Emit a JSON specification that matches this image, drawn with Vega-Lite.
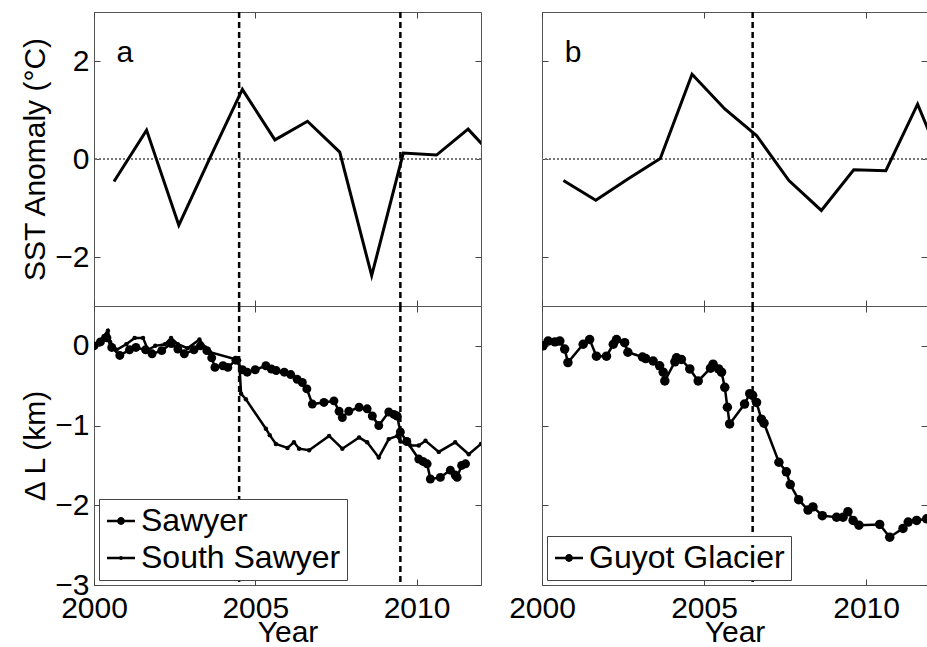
{
  "$schema": "https://vega.github.io/schema/vega-lite/v6.json",
  "padding": {"left": 20, "top": 10, "right": 0, "bottom": 0},
  "background": "white",
  "datasets": {
    "sstA": [
      {"year": 2000.62, "sst": -0.46}, {"year": 2001.63, "sst": 0.59}, {"year": 2002.63, "sst": -1.35},
      {"year": 2003.6, "sst": 0.03}, {"year": 2004.6, "sst": 1.42}, {"year": 2005.61, "sst": 0.39},
      {"year": 2006.62, "sst": 0.77}, {"year": 2007.62, "sst": 0.14}, {"year": 2008.61, "sst": -2.38},
      {"year": 2009.59, "sst": 0.12}, {"year": 2010.62, "sst": 0.08}, {"year": 2011.6, "sst": 0.61},
      {"year": 2012.6, "sst": -0.1}
    ],
    "sstB": [
      {"year": 2000.66, "sst": -0.44}, {"year": 2001.66, "sst": -0.84}, {"year": 2002.65, "sst": -0.41},
      {"year": 2003.65, "sst": 0.01}, {"year": 2004.63, "sst": 1.73}, {"year": 2005.64, "sst": 1.02},
      {"year": 2006.62, "sst": 0.48}, {"year": 2007.62, "sst": -0.44}, {"year": 2008.62, "sst": -1.05},
      {"year": 2009.62, "sst": -0.22}, {"year": 2010.61, "sst": -0.24}, {"year": 2011.59, "sst": 1.12},
      {"year": 2012.6, "sst": -0.5}
    ],
    "eventsA": [{"t": 2004.5}, {"t": 2009.5}],
    "eventsB": [{"t": 2006.5}],
    "labelA": [{"panel": "a"}],
    "labelB": [{"panel": "b"}],
    "glA": [
      {"glacier": "Sawyer", "year": 2000.0, "dL": 0.0},
      {"glacier": "Sawyer", "year": 2000.2, "dL": 0.05},
      {"glacier": "Sawyer", "year": 2000.4, "dL": 0.1},
      {"glacier": "Sawyer", "year": 2000.55, "dL": -0.02},
      {"glacier": "Sawyer", "year": 2000.8, "dL": -0.12},
      {"glacier": "Sawyer", "year": 2001.1, "dL": -0.05},
      {"glacier": "Sawyer", "year": 2001.3, "dL": -0.02},
      {"glacier": "Sawyer", "year": 2001.6, "dL": -0.05},
      {"glacier": "Sawyer", "year": 2001.8, "dL": -0.1},
      {"glacier": "Sawyer", "year": 2002.1, "dL": -0.06},
      {"glacier": "Sawyer", "year": 2002.4, "dL": 0.03},
      {"glacier": "Sawyer", "year": 2002.6, "dL": -0.04},
      {"glacier": "Sawyer", "year": 2002.8, "dL": -0.1},
      {"glacier": "Sawyer", "year": 2003.1, "dL": -0.05},
      {"glacier": "Sawyer", "year": 2003.3, "dL": 0.0},
      {"glacier": "Sawyer", "year": 2003.5, "dL": -0.06},
      {"glacier": "Sawyer", "year": 2003.65, "dL": -0.15},
      {"glacier": "Sawyer", "year": 2003.75, "dL": -0.27},
      {"glacier": "Sawyer", "year": 2004.0, "dL": -0.25},
      {"glacier": "Sawyer", "year": 2004.15, "dL": -0.27},
      {"glacier": "Sawyer", "year": 2004.4, "dL": -0.18},
      {"glacier": "Sawyer", "year": 2004.6, "dL": -0.3},
      {"glacier": "Sawyer", "year": 2004.75, "dL": -0.33},
      {"glacier": "Sawyer", "year": 2005.0, "dL": -0.3},
      {"glacier": "Sawyer", "year": 2005.33, "dL": -0.25},
      {"glacier": "Sawyer", "year": 2005.5, "dL": -0.29},
      {"glacier": "Sawyer", "year": 2005.65, "dL": -0.31},
      {"glacier": "Sawyer", "year": 2005.9, "dL": -0.33},
      {"glacier": "Sawyer", "year": 2006.1, "dL": -0.36},
      {"glacier": "Sawyer", "year": 2006.3, "dL": -0.42},
      {"glacier": "Sawyer", "year": 2006.46, "dL": -0.46},
      {"glacier": "Sawyer", "year": 2006.6, "dL": -0.54},
      {"glacier": "Sawyer", "year": 2006.77, "dL": -0.73},
      {"glacier": "Sawyer", "year": 2007.13, "dL": -0.71},
      {"glacier": "Sawyer", "year": 2007.44, "dL": -0.69},
      {"glacier": "Sawyer", "year": 2007.6, "dL": -0.82},
      {"glacier": "Sawyer", "year": 2007.7, "dL": -0.9},
      {"glacier": "Sawyer", "year": 2007.9, "dL": -0.82},
      {"glacier": "Sawyer", "year": 2008.22, "dL": -0.77},
      {"glacier": "Sawyer", "year": 2008.47, "dL": -0.79},
      {"glacier": "Sawyer", "year": 2008.63, "dL": -0.88},
      {"glacier": "Sawyer", "year": 2008.83, "dL": -1.0},
      {"glacier": "Sawyer", "year": 2009.14, "dL": -0.83},
      {"glacier": "Sawyer", "year": 2009.3, "dL": -0.86},
      {"glacier": "Sawyer", "year": 2009.4, "dL": -0.88},
      {"glacier": "Sawyer", "year": 2009.5, "dL": -1.08},
      {"glacier": "Sawyer", "year": 2009.7, "dL": -1.2},
      {"glacier": "Sawyer", "year": 2010.07, "dL": -1.42},
      {"glacier": "Sawyer", "year": 2010.2, "dL": -1.45},
      {"glacier": "Sawyer", "year": 2010.33, "dL": -1.48},
      {"glacier": "Sawyer", "year": 2010.43, "dL": -1.67},
      {"glacier": "Sawyer", "year": 2010.74, "dL": -1.65},
      {"glacier": "Sawyer", "year": 2011.05, "dL": -1.56},
      {"glacier": "Sawyer", "year": 2011.2, "dL": -1.62},
      {"glacier": "Sawyer", "year": 2011.26, "dL": -1.65},
      {"glacier": "Sawyer", "year": 2011.4, "dL": -1.5},
      {"glacier": "Sawyer", "year": 2011.52, "dL": -1.48},
      {"glacier": "South Sawyer", "year": 2000.0, "dL": 0.0},
      {"glacier": "South Sawyer", "year": 2000.3, "dL": 0.12},
      {"glacier": "South Sawyer", "year": 2000.43, "dL": 0.19},
      {"glacier": "South Sawyer", "year": 2000.5, "dL": 0.05},
      {"glacier": "South Sawyer", "year": 2000.7, "dL": -0.05},
      {"glacier": "South Sawyer", "year": 2001.0, "dL": 0.02},
      {"glacier": "South Sawyer", "year": 2001.26, "dL": 0.1},
      {"glacier": "South Sawyer", "year": 2001.52, "dL": 0.1},
      {"glacier": "South Sawyer", "year": 2001.67, "dL": -0.05},
      {"glacier": "South Sawyer", "year": 2001.9, "dL": 0.0},
      {"glacier": "South Sawyer", "year": 2002.2, "dL": 0.02},
      {"glacier": "South Sawyer", "year": 2002.39, "dL": 0.1},
      {"glacier": "South Sawyer", "year": 2002.6, "dL": 0.02},
      {"glacier": "South Sawyer", "year": 2002.9, "dL": -0.03},
      {"glacier": "South Sawyer", "year": 2003.27, "dL": 0.08},
      {"glacier": "South Sawyer", "year": 2003.45, "dL": -0.02},
      {"glacier": "South Sawyer", "year": 2003.6, "dL": -0.08},
      {"glacier": "South Sawyer", "year": 2004.5, "dL": -0.18},
      {"glacier": "South Sawyer", "year": 2004.56, "dL": -0.6},
      {"glacier": "South Sawyer", "year": 2004.71, "dL": -0.67},
      {"glacier": "South Sawyer", "year": 2005.33, "dL": -1.04},
      {"glacier": "South Sawyer", "year": 2005.45, "dL": -1.12},
      {"glacier": "South Sawyer", "year": 2005.64, "dL": -1.23},
      {"glacier": "South Sawyer", "year": 2006.0, "dL": -1.28},
      {"glacier": "South Sawyer", "year": 2006.2, "dL": -1.21},
      {"glacier": "South Sawyer", "year": 2006.36, "dL": -1.29},
      {"glacier": "South Sawyer", "year": 2006.67, "dL": -1.31},
      {"glacier": "South Sawyer", "year": 2007.29, "dL": -1.13},
      {"glacier": "South Sawyer", "year": 2007.7, "dL": -1.29},
      {"glacier": "South Sawyer", "year": 2008.22, "dL": -1.15},
      {"glacier": "South Sawyer", "year": 2008.47, "dL": -1.21},
      {"glacier": "South Sawyer", "year": 2008.83, "dL": -1.4},
      {"glacier": "South Sawyer", "year": 2009.14, "dL": -1.17},
      {"glacier": "South Sawyer", "year": 2009.4, "dL": -1.13},
      {"glacier": "South Sawyer", "year": 2009.5, "dL": -1.2},
      {"glacier": "South Sawyer", "year": 2009.81, "dL": -1.25},
      {"glacier": "South Sawyer", "year": 2010.07, "dL": -1.25},
      {"glacier": "South Sawyer", "year": 2010.28, "dL": -1.19},
      {"glacier": "South Sawyer", "year": 2010.69, "dL": -1.33},
      {"glacier": "South Sawyer", "year": 2011.2, "dL": -1.21},
      {"glacier": "South Sawyer", "year": 2011.62, "dL": -1.36},
      {"glacier": "South Sawyer", "year": 2012.0, "dL": -1.23}
    ],
    "glB": [
      {"glacier": "Guyot Glacier", "year": 2000.03, "dL": 0.0},
      {"glacier": "Guyot Glacier", "year": 2000.19, "dL": 0.06},
      {"glacier": "Guyot Glacier", "year": 2000.4, "dL": 0.05},
      {"glacier": "Guyot Glacier", "year": 2000.55, "dL": 0.06},
      {"glacier": "Guyot Glacier", "year": 2000.7, "dL": -0.04},
      {"glacier": "Guyot Glacier", "year": 2000.8, "dL": -0.21},
      {"glacier": "Guyot Glacier", "year": 2001.27, "dL": 0.02},
      {"glacier": "Guyot Glacier", "year": 2001.47, "dL": 0.08},
      {"glacier": "Guyot Glacier", "year": 2001.68, "dL": -0.13},
      {"glacier": "Guyot Glacier", "year": 2001.99, "dL": -0.13},
      {"glacier": "Guyot Glacier", "year": 2002.2, "dL": 0.02},
      {"glacier": "Guyot Glacier", "year": 2002.3, "dL": 0.08},
      {"glacier": "Guyot Glacier", "year": 2002.55, "dL": 0.04},
      {"glacier": "Guyot Glacier", "year": 2002.65, "dL": -0.08},
      {"glacier": "Guyot Glacier", "year": 2003.1, "dL": -0.14},
      {"glacier": "Guyot Glacier", "year": 2003.2, "dL": -0.16},
      {"glacier": "Guyot Glacier", "year": 2003.43, "dL": -0.19},
      {"glacier": "Guyot Glacier", "year": 2003.63, "dL": -0.25},
      {"glacier": "Guyot Glacier", "year": 2003.74, "dL": -0.33},
      {"glacier": "Guyot Glacier", "year": 2003.79, "dL": -0.44},
      {"glacier": "Guyot Glacier", "year": 2004.1, "dL": -0.2},
      {"glacier": "Guyot Glacier", "year": 2004.15, "dL": -0.15},
      {"glacier": "Guyot Glacier", "year": 2004.3, "dL": -0.17},
      {"glacier": "Guyot Glacier", "year": 2004.56, "dL": -0.29},
      {"glacier": "Guyot Glacier", "year": 2004.82, "dL": -0.44},
      {"glacier": "Guyot Glacier", "year": 2005.2, "dL": -0.28},
      {"glacier": "Guyot Glacier", "year": 2005.28, "dL": -0.23},
      {"glacier": "Guyot Glacier", "year": 2005.45, "dL": -0.29},
      {"glacier": "Guyot Glacier", "year": 2005.54, "dL": -0.33},
      {"glacier": "Guyot Glacier", "year": 2005.64, "dL": -0.52},
      {"glacier": "Guyot Glacier", "year": 2005.72, "dL": -0.77},
      {"glacier": "Guyot Glacier", "year": 2005.79, "dL": -0.98},
      {"glacier": "Guyot Glacier", "year": 2006.25, "dL": -0.73},
      {"glacier": "Guyot Glacier", "year": 2006.41, "dL": -0.6},
      {"glacier": "Guyot Glacier", "year": 2006.5, "dL": -0.62},
      {"glacier": "Guyot Glacier", "year": 2006.62, "dL": -0.71},
      {"glacier": "Guyot Glacier", "year": 2006.77, "dL": -0.92},
      {"glacier": "Guyot Glacier", "year": 2006.85, "dL": -0.97},
      {"glacier": "Guyot Glacier", "year": 2007.31, "dL": -1.46},
      {"glacier": "Guyot Glacier", "year": 2007.54, "dL": -1.58},
      {"glacier": "Guyot Glacier", "year": 2007.66, "dL": -1.74},
      {"glacier": "Guyot Glacier", "year": 2007.92, "dL": -1.93},
      {"glacier": "Guyot Glacier", "year": 2008.21, "dL": -2.06},
      {"glacier": "Guyot Glacier", "year": 2008.36, "dL": -2.02},
      {"glacier": "Guyot Glacier", "year": 2008.65, "dL": -2.13},
      {"glacier": "Guyot Glacier", "year": 2009.09, "dL": -2.15},
      {"glacier": "Guyot Glacier", "year": 2009.29, "dL": -2.15},
      {"glacier": "Guyot Glacier", "year": 2009.44, "dL": -2.08},
      {"glacier": "Guyot Glacier", "year": 2009.6, "dL": -2.19},
      {"glacier": "Guyot Glacier", "year": 2009.78, "dL": -2.25},
      {"glacier": "Guyot Glacier", "year": 2010.42, "dL": -2.24},
      {"glacier": "Guyot Glacier", "year": 2010.73, "dL": -2.4},
      {"glacier": "Guyot Glacier", "year": 2011.14, "dL": -2.29},
      {"glacier": "Guyot Glacier", "year": 2011.3, "dL": -2.21},
      {"glacier": "Guyot Glacier", "year": 2011.56, "dL": -2.19},
      {"glacier": "Guyot Glacier", "year": 2011.87, "dL": -2.17},
      {"glacier": "Guyot Glacier", "year": 2012.1, "dL": -2.15}
    ]
  },
  "bounds": "flush",
  "columns": 2,
  "spacing": {"row": 0, "column": 61},
  "resolve": {"scale": {"shape": "independent"}, "legend": {"shape": "independent"}},
  "concat": [
    {
      "width": 387, "height": 294,
      "resolve": {"axis": {"x": "independent", "y": "independent"}},
      "layer": [
        {
          "layer": [
            {
              "data": {"name": "sstA"},
              "mark": {"type": "rule", "color": "#777777", "strokeDash": [1.5, 2.5], "strokeWidth": 1.5},
              "encoding": {"y": {"datum": 0, "type": "quantitative"}}
            },
            {
              "data": {"name": "eventsA"},
              "mark": {"type": "rule", "color": "black", "strokeDash": [6, 4], "strokeWidth": 2.5},
              "encoding": {"x": {"field": "t", "type": "quantitative"}}
            },
            {
              "data": {"name": "sstA"},
              "mark": {"type": "line", "color": "black", "strokeWidth": 3, "clip": true},
              "encoding": {
                "x": {"field": "year", "type": "quantitative", "scale": {"domain": [2000, 2012], "nice": false, "zero": false},
                      "axis": {"orient": "bottom", "labels": false, "title": null, "values": [2000, 2005, 2010]}},
                "y": {"field": "sst", "type": "quantitative", "scale": {"domain": [-3, 3], "nice": false, "zero": false},
                      "axis": {"orient": "left", "values": [-2, 0, 2], "format": "d", "title": "SST Anomaly (°C)"}}
              }
            },
            {
              "data": {"name": "labelA"},
              "mark": {"type": "text", "font": "Liberation Sans", "fontSize": 30, "align": "left", "baseline": "alphabetic", "color": "black"},
              "encoding": {"x": {"datum": 2000.7, "type": "quantitative"}, "y": {"datum": 1.97, "type": "quantitative"}, "text": {"field": "panel"}}
            }
          ]
        },
        {
          "data": {"name": "sstA"},
          "mark": {"type": "line", "opacity": 0, "clip": true},
          "encoding": {
            "x": {"field": "year", "type": "quantitative", "scale": {"domain": [2000, 2012], "nice": false, "zero": false},
                  "axis": {"orient": "top", "labels": false, "title": null, "values": [2000, 2005, 2010]}},
            "y": {"field": "sst", "type": "quantitative", "scale": {"domain": [-3, 3], "nice": false, "zero": false},
                  "axis": {"orient": "right", "labels": false, "title": null, "values": [-2, 0, 2]}}
          }
        }
      ]
    },
    {
      "width": 385, "height": 294,
      "resolve": {"axis": {"x": "independent", "y": "independent"}},
      "layer": [
        {
          "layer": [
            {
              "data": {"name": "sstB"},
              "mark": {"type": "rule", "color": "#777777", "strokeDash": [1.5, 2.5], "strokeWidth": 1.5},
              "encoding": {"y": {"datum": 0, "type": "quantitative"}}
            },
            {
              "data": {"name": "eventsB"},
              "mark": {"type": "rule", "color": "black", "strokeDash": [6, 4], "strokeWidth": 2.5},
              "encoding": {"x": {"field": "t", "type": "quantitative"}}
            },
            {
              "data": {"name": "sstB"},
              "mark": {"type": "line", "color": "black", "strokeWidth": 3, "clip": true},
              "encoding": {
                "x": {"field": "year", "type": "quantitative", "scale": {"domain": [2000, 2011.88], "nice": false, "zero": false},
                      "axis": {"orient": "bottom", "labels": false, "title": null, "values": [2000, 2005, 2010]}},
                "y": {"field": "sst", "type": "quantitative", "scale": {"domain": [-3, 3], "nice": false, "zero": false},
                      "axis": {"orient": "left", "labels": false, "title": null, "values": [-2, 0, 2]}}
              }
            },
            {
              "data": {"name": "labelB"},
              "mark": {"type": "text", "font": "Liberation Sans", "fontSize": 30, "align": "left", "baseline": "alphabetic", "color": "black"},
              "encoding": {"x": {"datum": 2000.7, "type": "quantitative"}, "y": {"datum": 1.97, "type": "quantitative"}, "text": {"field": "panel"}}
            }
          ]
        },
        {
          "data": {"name": "sstB"},
          "mark": {"type": "line", "opacity": 0, "clip": true},
          "encoding": {
            "x": {"field": "year", "type": "quantitative", "scale": {"domain": [2000, 2011.88], "nice": false, "zero": false},
                  "axis": {"orient": "top", "labels": false, "title": null, "values": [2000, 2005, 2010]}},
            "y": {"field": "sst", "type": "quantitative", "scale": {"domain": [-3, 3], "nice": false, "zero": false},
                  "axis": {"orient": "right", "labels": false, "title": null, "values": [-2, 0, 2]}}
          }
        }
      ]
    },
    {
      "width": 387, "height": 279,
      "resolve": {"axis": {"x": "independent", "y": "independent"}},
      "layer": [
        {
          "layer": [
            {
              "data": {"name": "eventsA"},
              "mark": {"type": "rule", "color": "black", "strokeDash": [6, 4], "strokeWidth": 2.5},
              "encoding": {"x": {"field": "t", "type": "quantitative"}}
            },
            {
              "data": {"name": "glA"},
              "mark": {"type": "line", "color": "black", "strokeWidth": 2.5, "clip": true},
              "encoding": {
                "x": {"field": "year", "type": "quantitative", "scale": {"domain": [2000, 2012], "nice": false, "zero": false},
                      "axis": {"orient": "bottom", "values": [2000, 2005, 2010], "format": "d", "title": "Year", "labelPadding": 14, "titlePadding": -6}},
                "y": {"field": "dL", "type": "quantitative", "scale": {"domain": [-3, 0.5], "nice": false, "zero": false},
                      "axis": {"orient": "left", "values": [0, -1, -2, -3], "format": "d", "title": "Δ L (km)"}},
                "detail": {"field": "glacier", "type": "nominal"}
              }
            },
            {
              "data": {"name": "glA"},
              "transform": [{"filter": "datum.glacier === 'Sawyer'"}],
              "mark": {"type": "point", "filled": true, "color": "black", "opacity": 1, "size": 80, "clip": true},
              "encoding": {
                "x": {"field": "year", "type": "quantitative"},
                "y": {"field": "dL", "type": "quantitative"}
              }
            },
            {
              "data": {"name": "glA"},
              "transform": [{"filter": "datum.glacier === 'South Sawyer'"}],
              "mark": {"type": "point", "filled": true, "color": "black", "opacity": 1, "size": 20, "clip": true},
              "encoding": {
                "x": {"field": "year", "type": "quantitative"},
                "y": {"field": "dL", "type": "quantitative"}
              }
            },
            {
              "data": {"name": "glA"},
              "mark": {"type": "point", "filled": false, "color": "black", "strokeWidth": 2.5, "opacity": 0},
              "encoding": {
                "x": {"field": "year", "type": "quantitative"},
                "y": {"field": "dL", "type": "quantitative"},
                "shape": {"field": "glacier", "type": "nominal",
                  "scale": {"domain": ["Sawyer", "South Sawyer"], "range": [
                    "M-1,0L1,0M-0.08,0A0.08,0.08,0,1,1,0.08,0A0.08,0.08,0,1,1,-0.08,0ZM-0.19,0A0.19,0.19,0,1,1,0.19,0A0.19,0.19,0,1,1,-0.19,0Z",
                    "M-1,0L1,0M-0.06,0A0.06,0.06,0,1,1,0.06,0A0.06,0.06,0,1,1,-0.06,0Z"]},
                  "legend": {"title": null, "orient": "bottom-left", "offset": 5, "padding": 6, "strokeColor": "#444444", "fillColor": "white",
                    "labelFont": "Liberation Sans", "labelFontSize": 32, "labelColor": "black", "labelLimit": 0, "symbolSize": 784,
                    "symbolStrokeColor": "black", "symbolStrokeWidth": 2.5, "symbolFillColor": "transparent", "symbolOpacity": 1,
                    "rowPadding": 5, "labelOffset": 4, "cornerRadius": 0,
                    "encode": {"symbols": {"stroke": {"value": "black"}, "strokeWidth": {"value": 2.5}, "opacity": {"value": 1}}}}}
              }
            }
          ]
        },
        {
          "data": {"name": "glA"},
          "mark": {"type": "line", "opacity": 0, "clip": true},
          "encoding": {
            "x": {"field": "year", "type": "quantitative", "scale": {"domain": [2000, 2012], "nice": false, "zero": false},
                  "axis": {"orient": "top", "labels": false, "title": null, "values": [2000, 2005, 2010]}},
            "y": {"field": "dL", "type": "quantitative", "scale": {"domain": [-3, 0.5], "nice": false, "zero": false},
                  "axis": {"orient": "right", "labels": false, "title": null, "values": [0, -1, -2, -3]}},
            "detail": {"field": "glacier", "type": "nominal"}
          }
        }
      ]
    },
    {
      "width": 385, "height": 279,
      "resolve": {"axis": {"x": "independent", "y": "independent"}},
      "layer": [
        {
          "layer": [
            {
              "data": {"name": "eventsB"},
              "mark": {"type": "rule", "color": "black", "strokeDash": [6, 4], "strokeWidth": 2.5},
              "encoding": {"x": {"field": "t", "type": "quantitative"}}
            },
            {
              "data": {"name": "glB"},
              "mark": {"type": "line", "color": "black", "strokeWidth": 2.5, "clip": true},
              "encoding": {
                "x": {"field": "year", "type": "quantitative", "scale": {"domain": [2000, 2011.88], "nice": false, "zero": false},
                      "axis": {"orient": "bottom", "values": [2000, 2005, 2010], "format": "d", "title": "Year", "labelPadding": 14, "titlePadding": -6}},
                "y": {"field": "dL", "type": "quantitative", "scale": {"domain": [-3, 0.5], "nice": false, "zero": false},
                      "axis": {"orient": "left", "labels": false, "title": null, "values": [0, -1, -2, -3]}}
              }
            },
            {
              "data": {"name": "glB"},
              "mark": {"type": "point", "filled": true, "color": "black", "opacity": 1, "size": 90, "clip": true},
              "encoding": {
                "x": {"field": "year", "type": "quantitative"},
                "y": {"field": "dL", "type": "quantitative"}
              }
            },
            {
              "data": {"name": "glB"},
              "mark": {"type": "point", "filled": false, "color": "black", "strokeWidth": 2.5, "opacity": 0},
              "encoding": {
                "x": {"field": "year", "type": "quantitative"},
                "y": {"field": "dL", "type": "quantitative"},
                "shape": {"field": "glacier", "type": "nominal",
                  "scale": {"domain": ["Guyot Glacier"], "range": [
                    "M-1,0L1,0M-0.08,0A0.08,0.08,0,1,1,0.08,0A0.08,0.08,0,1,1,-0.08,0ZM-0.19,0A0.19,0.19,0,1,1,0.19,0A0.19,0.19,0,1,1,-0.19,0Z"]},
                  "legend": {"title": null, "orient": "bottom-left", "offset": 5, "padding": 6, "strokeColor": "#444444", "fillColor": "white",
                    "labelFont": "Liberation Sans", "labelFontSize": 32, "labelColor": "black", "labelLimit": 0, "symbolSize": 784,
                    "symbolStrokeColor": "black", "symbolStrokeWidth": 2.5, "symbolFillColor": "transparent", "symbolOpacity": 1,
                    "rowPadding": 5, "labelOffset": 4, "cornerRadius": 0,
                    "encode": {"symbols": {"stroke": {"value": "black"}, "strokeWidth": {"value": 2.5}, "opacity": {"value": 1}}}}}
              }
            }
          ]
        },
        {
          "data": {"name": "glB"},
          "mark": {"type": "line", "opacity": 0, "clip": true},
          "encoding": {
            "x": {"field": "year", "type": "quantitative", "scale": {"domain": [2000, 2011.88], "nice": false, "zero": false},
                  "axis": {"orient": "top", "labels": false, "title": null, "values": [2000, 2005, 2010]}},
            "y": {"field": "dL", "type": "quantitative", "scale": {"domain": [-3, 0.5], "nice": false, "zero": false},
                  "axis": {"orient": "right", "labels": false, "title": null, "values": [0, -1, -2, -3]}}
          }
        }
      ]
    }
  ],
  "config": {
    "view": {"stroke": "#555555", "strokeWidth": 1},
    "font": "Liberation Sans",
    "axis": {
      "domain": false, "grid": false, "tickSize": -6, "tickColor": "#444444", "tickWidth": 1,
      "labelFont": "Liberation Sans", "labelFontSize": 30, "labelColor": "black", "labelPadding": 11,
      "labelFlush": false, "labelOverlap": false,
      "titleFont": "Liberation Sans", "titleFontSize": 30, "titleFontWeight": "normal", "titleColor": "black", "titlePadding": 4
    }
  }
}
